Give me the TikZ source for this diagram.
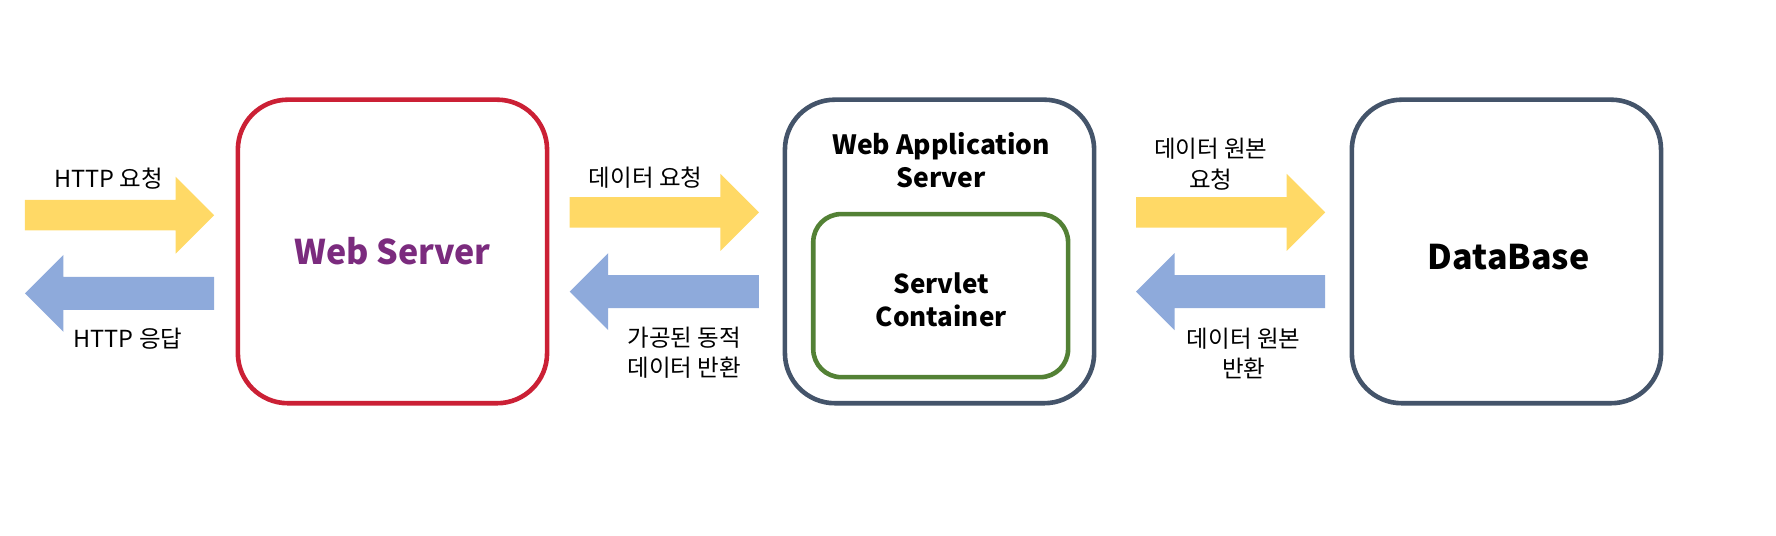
\documentclass[tikz,border=0pt]{standalone}
\usepackage{fontspec}
\setmainfont{Noto Sans CJK KR}
\usetikzlibrary{calc}
\definecolor{wsred}{HTML}{CB2035}
\definecolor{wspurple}{HTML}{7B2B7E}
\definecolor{slate}{HTML}{44546A}
\definecolor{scgreen}{HTML}{538135}
\definecolor{reqyellow}{HTML}{FFD966}
\definecolor{resblue}{HTML}{8EAADB}
\newcommand{\rightblock}[5]{% tail x, head base x, tip x, center y, name
  \fill[reqyellow] (#1,#4-13.5) -- (#2,#4-13.5) -- (#2,#4-34) -- (#3,#4) -- (#2,#4+34) -- (#2,#4+13.5) -- (#1,#4+13.5) -- cycle;
  \coordinate (#5) at (#3,#4);}
\newcommand{\leftblock}[5]{% tip x, head base x, tail x, center y, name
  \fill[resblue] (#3,#4-14.5) -- (#2,#4-14.5) -- (#2,#4-34) -- (#1,#4) -- (#2,#4+34) -- (#2,#4+14.5) -- (#3,#4+14.5) -- cycle;
  \coordinate (#5) at (#1,#4);}
\tikzset{
  box/.style={draw, line width=4.6pt, rounded corners=50pt, fill=white, inner sep=0pt,
    minimum width={273*1.1327pt}, minimum height={268*1.1327pt}},
  lbl/.style={font=\fontsize{23.5}{30.5}\selectfont, align=center, inner sep=0pt},
}
\begin{document}
\begin{tikzpicture}[x=1.1327pt, y=-1.1327pt]
\useasboundingbox (0,0) rectangle (1568,473);
% boxes
\node[box, draw=wsred] (ws) at (346.5,222) {};
\node[font=\fontsize{34}{40}\selectfont\bfseries, text=wspurple] (wst) at (346.5,222) {Web Server};
\node[box, draw=slate] (was) at (829.5,222) {};
\node[font=\fontsize{26.5}{33}\selectfont\bfseries, align=center] (wast) at (831,141.5) {Web Application\\Server};
\node[draw=scgreen, line width=4.6pt, rounded corners=28pt, inner sep=0pt,
  minimum width={225*1.1327pt}, minimum height={144*1.1327pt}] (sc) at (830.5,261) {};
\node[font=\fontsize{26}{33}\selectfont\bfseries, align=center] (sct) at (831,264.5) {Servlet\\Container};
\node[box, draw=slate] (db) at (1330,222) {};
\node[font=\fontsize{34}{40}\selectfont\bfseries] (dbt) at (1332,227) {DataBase};
% arrows
\rightblock{22}{155}{189}{190}{a1}
\leftblock{22}{56}{189}{259}{a2}
\rightblock{503}{636}{670}{187.5}{a3}
\leftblock{503}{537}{670}{257.5}{a4}
\rightblock{1003}{1136}{1170}{187.5}{a5}
\leftblock{1003}{1037}{1170}{257.5}{a6}
% labels
\node[lbl] (l1) at (96,158) {HTTP 요청};
\node[lbl] (l2) at (113,299) {HTTP 응답};
\node[lbl] (l3) at (570,157) {데이터 요청};
\node[lbl] (l4) at (604,311.5) {가공된 동적\\데이터 반환};
\node[lbl] (l5) at (1069,145) {데이터 원본\\요청};
\node[lbl] (l6) at (1098,312) {데이터 원본\\반환};
\end{tikzpicture}
\end{document}
